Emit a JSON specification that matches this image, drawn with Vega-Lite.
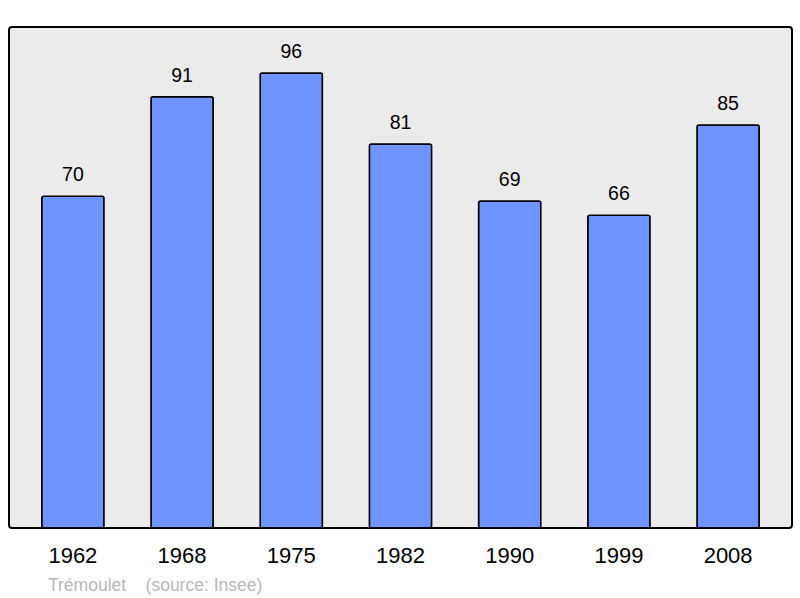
{
  "$schema": "https://vega.github.io/schema/vega-lite/v6.json",
  "autosize": "none",
  "width": 783,
  "height": 501,
  "padding": {"left": 9, "top": 27, "right": 8, "bottom": 70},
  "background": "white",
  "config": {
    "font": "Liberation Sans",
    "view": {"stroke": "#000000", "strokeWidth": 2, "fill": "#ebebeb", "cornerRadius": 3}
  },
  "title": {
    "text": "Trémoulet\u00a0\u00a0\u00a0 (source: Insee)",
    "orient": "bottom",
    "anchor": "start",
    "dx": 39,
    "offset": 11,
    "fontSize": 17.5,
    "fontWeight": "normal",
    "color": "#b8b8b8",
    "font": "Liberation Sans"
  },
  "data": {
    "values": [
      {"year": "1962", "pop": 70},
      {"year": "1968", "pop": 91},
      {"year": "1975", "pop": 96},
      {"year": "1982", "pop": 81},
      {"year": "1990", "pop": 69},
      {"year": "1999", "pop": 66},
      {"year": "2008", "pop": 85}
    ]
  },
  "encoding": {
    "x": {
      "field": "year",
      "type": "ordinal",
      "scale": {"paddingInner": 0.43, "paddingOuter": 0.3},
      "axis": {
        "title": null,
        "domain": false,
        "ticks": false,
        "labelAngle": 0,
        "labelFontSize": 22,
        "labelColor": "#000000",
        "labelPadding": 17,
        "labelFont": "Liberation Sans"
      }
    },
    "y": {
      "field": "pop",
      "type": "quantitative",
      "scale": {"domain": [0, 105.7], "nice": false},
      "axis": null
    }
  },
  "layer": [
    {
      "mark": {"type": "bar", "fill": "#7094ff", "stroke": "#000000", "strokeWidth": 1.5, "cornerRadius": 2}
    },
    {
      "mark": {"type": "text", "baseline": "alphabetic", "dy": -15, "fontSize": 19.5, "color": "#000000", "font": "Liberation Sans"},
      "encoding": {"text": {"field": "pop", "type": "quantitative"}}
    }
  ]
}
